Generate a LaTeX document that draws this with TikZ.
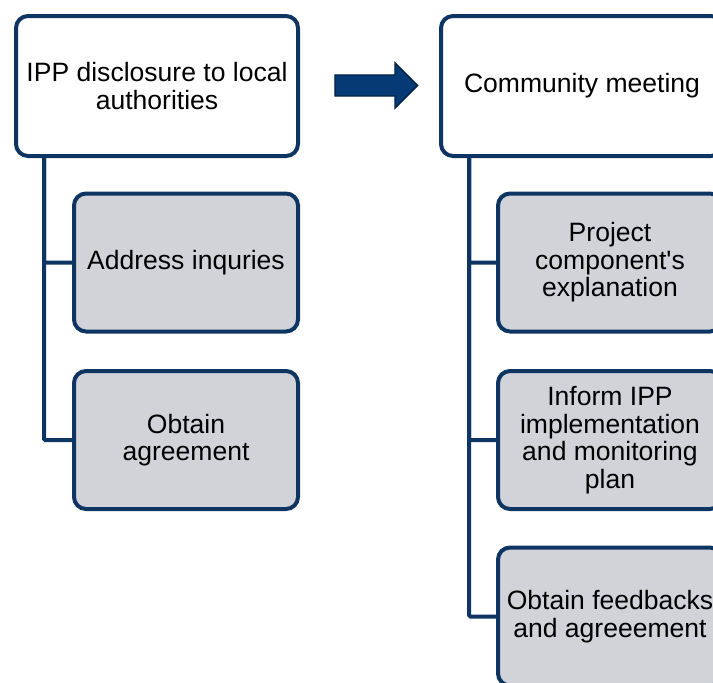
\documentclass[tikz,border=0pt]{standalone}
\usepackage{fontspec}
\setmainfont{Liberation Sans}
\usepackage{xcolor}
\usetikzlibrary{shapes.arrows, positioning, calc}
\definecolor{navy}{RGB}{14, 52, 98}
\definecolor{navyfill}{RGB}{6, 58, 116}
\definecolor{navyedge}{RGB}{2, 34, 70}
\definecolor{panel}{RGB}{209, 211, 217}
\tikzset{
    box/.style={rectangle, rounded corners=9pt, draw=navy, line width=3pt, align=center, font=\fontsize{19.9}{20.6}\selectfont, inner sep=2pt},
    headbox/.style={box, fill=white, minimum width=211.5pt, minimum height=105pt},
    subbox/.style={box, fill=panel, minimum width=168pt, minimum height=103.5pt},
    tree/.style={draw=navy, line width=3pt, rounded corners=1pt},
    bigarrow/.style={single arrow, fill=navyfill, draw=navyedge, line width=1pt, minimum height=62pt, inner xsep=0pt, inner ysep=7.4pt, text height=0pt, text depth=0pt, single arrow head extend=9pt}
}
\begin{document}
\begin{tikzpicture}[x=0.75pt, y=-0.75pt]
                \clip (0,0) rectangle (713,682);
                % left column
                \node[headbox] (ippbox) at (157,86) {IPP disclosure to local\\authorities};
                \node[subbox] (inquiry) at (186,262.5) {Address inquries};
                \node[subbox] (agree) at (186,440) {Obtain\\agreement};
                \draw[tree] ([xshift=22.5pt]ippbox.south west) |- (inquiry.west);
                \draw[tree] ([xshift=22.5pt]ippbox.south west) |- (agree.west);
                % arrow between the columns
                \node[bigarrow] (arrow) at (371,85.5) {};
                % right column
                \node[headbox] (meeting) at (582,86) {Community meeting};
                \node[subbox] (explain) at (610,262.5) {Project\\component\textquotesingle s\\explanation};
                \node[subbox] (inform) at (610,440) {Inform IPP\\implementation\\and monitoring\\plan};
                \node[subbox] (feedback) at (610,616.5) {Obtain feedbacks\\and agreeement};
                \draw[tree] ([xshift=22.5pt]meeting.south west) |- (explain.west);
                \draw[tree] ([xshift=22.5pt]meeting.south west) |- (inform.west);
                \draw[tree] ([xshift=22.5pt]meeting.south west) |- (feedback.west);
            \end{tikzpicture}
\end{document}
